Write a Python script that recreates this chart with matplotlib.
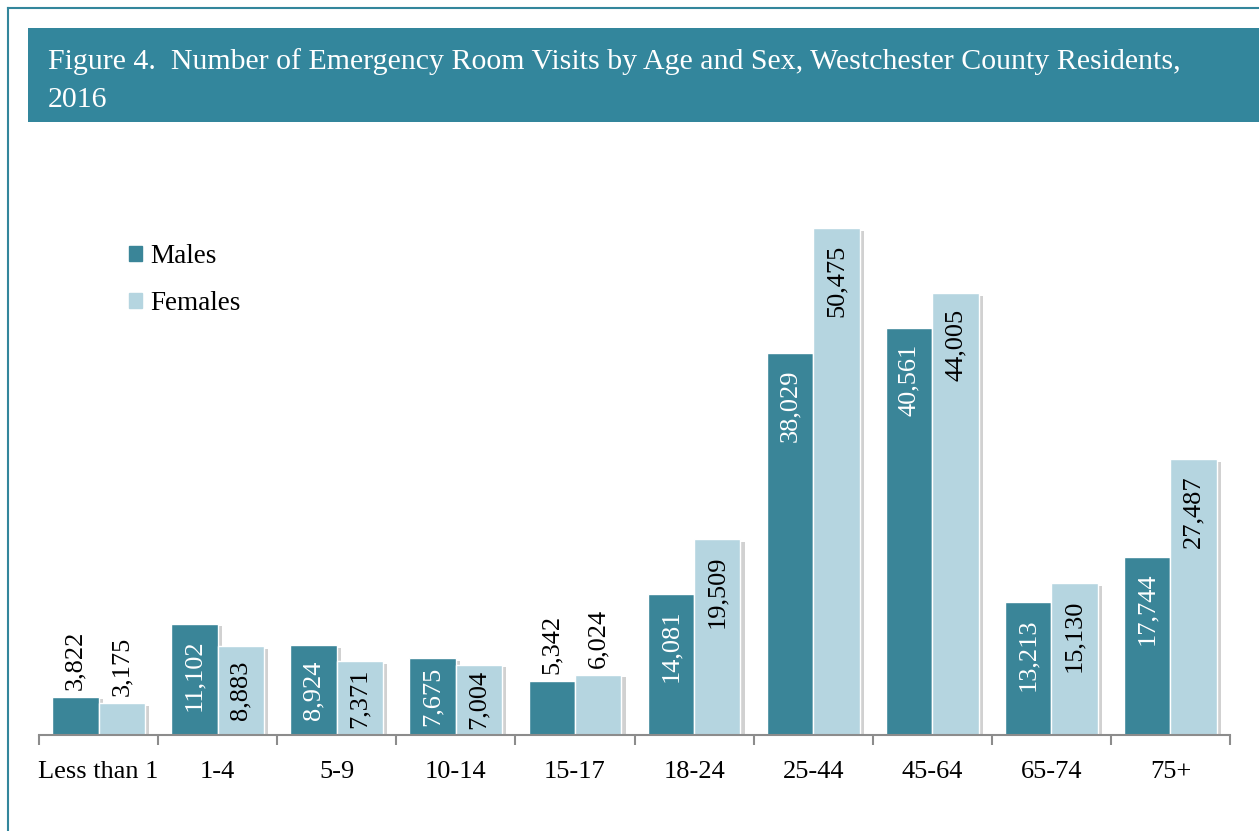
"""Emergency room visits by age and sex, Westchester County, 2016."""

import matplotlib.pyplot as plt
import matplotlib.patheffects as pe
import numpy as np
from matplotlib.lines import Line2D
from matplotlib.patches import Rectangle

AGE_GROUPS = ["Less than 1", "1-4", "5-9", "10-14", "15-17",
              "18-24", "25-44", "45-64", "65-74", "75+"]
MALES = [3822, 11102, 8924, 7675, 5342, 14081, 38029, 40561, 13213, 17744]
FEMALES = [3175, 8883, 7371, 7004, 6024, 19509, 50475, 44005, 15130, 27487]

TEAL = "#3a8598"
LIGHT = "#b5d5e0"
BANNER = "#33869c"
FONT = "Liberation Serif"
DPI = 100

plt.rcParams["font.family"] = FONT

fig = plt.figure(figsize=(12.59, 8.31), dpi=DPI)

# outer frame lines (left and top)
fig.add_artist(Line2D([8 / 1259, 8 / 1259], [0, 1 - 8 / 831], color=BANNER, lw=1.5))
fig.add_artist(Line2D([8 / 1259, 1], [1 - 8 / 831, 1 - 8 / 831], color=BANNER, lw=1.5))

# title banner
fig.add_artist(Rectangle((28 / 1259, 1 - 122 / 831), 1, 94 / 831,
                         transform=fig.transFigure, color=BANNER, lw=0))
fig.text(48 / 1259, 1 - 62 / 831,
         "Figure 4.  Number of Emergency Room Visits by Age and Sex, Westchester County Residents,",
         color="white", fontsize=21.5, va="center", ha="left")
fig.text(48 / 1259, 1 - 100 / 831, "2016", color="white", fontsize=21.5,
         va="center", ha="left")

ax = fig.add_axes([39 / 1259, 96 / 831, 1191 / 1259, 552 / 831])
x = np.arange(len(AGE_GROUPS))
w = 0.39
shadow = [pe.SimplePatchShadow(offset=(3, -2), shadow_rgbFace="#999999", alpha=0.45),
          pe.Normal()]

bm = ax.bar(x - w / 2, MALES, w, color=TEAL, edgecolor="white", linewidth=1)
bf = ax.bar(x + w / 2, FEMALES, w, color=LIGHT, edgecolor="white", linewidth=1)
for b in list(bm) + list(bf):
    b.set_path_effects(shadow)

ax.set_xlim(-0.5, len(AGE_GROUPS) - 0.5)
ax.set_ylim(0, 55000)

# value labels: inside near the top of tall bars, above short bars
inside = []
for bars, vals, inner in ((bm, MALES, "white"), (bf, FEMALES, "black")):
    for b, v in zip(bars, vals):
        cx = b.get_x() + b.get_width() / 2
        label = f"{v:,}"
        if v > 6500:
            t = ax.annotate(label, (cx, v), xytext=(0, -12), textcoords="offset points",
                            rotation=90, ha="center", va="top", fontsize=19, color=inner)
            inside.append((t, v))
        else:
            ax.annotate(label, (cx, v), xytext=(0, 5), textcoords="offset points",
                        rotation=90, ha="center", va="bottom", fontsize=19, color="black")

fig.canvas.draw()
renderer = fig.canvas.get_renderer()
for t, v in inside:
    text_px = t.get_window_extent(renderer).height
    bar_px = ax.transData.transform((0, v))[1] - ax.transData.transform((0, 0))[1]
    pad_px = min(16, max(3, (bar_px - text_px) / 2))
    t.set_position((0, -pad_px * 72 / DPI))

ax.set_yticks([])
ax.set_xticks(x)
ax.set_xticklabels(AGE_GROUPS, fontsize=19)
ax.set_xticks(np.arange(len(AGE_GROUPS) + 1) - 0.5, minor=True)
ax.tick_params(axis="x", which="major", length=0, pad=19)
ax.tick_params(axis="x", which="minor", length=7, width=1.5, color="#8c8c8c")
for side in ("top", "right", "left"):
    ax.spines[side].set_visible(False)
ax.spines["bottom"].set_color("#8c8c8c")
ax.spines["bottom"].set_linewidth(1.5)

handles = [Rectangle((0, 0), 1, 1, color=TEAL), Rectangle((0, 0), 1, 1, color=LIGHT)]
ax.legend(handles, ["Males", "Females"], loc="upper left",
          bbox_to_anchor=(0.055, 0.933), frameon=False, fontsize=19.5,
          handlelength=0.5, handleheight=0.5, handletextpad=0.3, labelspacing=0.8)

fig.savefig("out.png", dpi=DPI)
